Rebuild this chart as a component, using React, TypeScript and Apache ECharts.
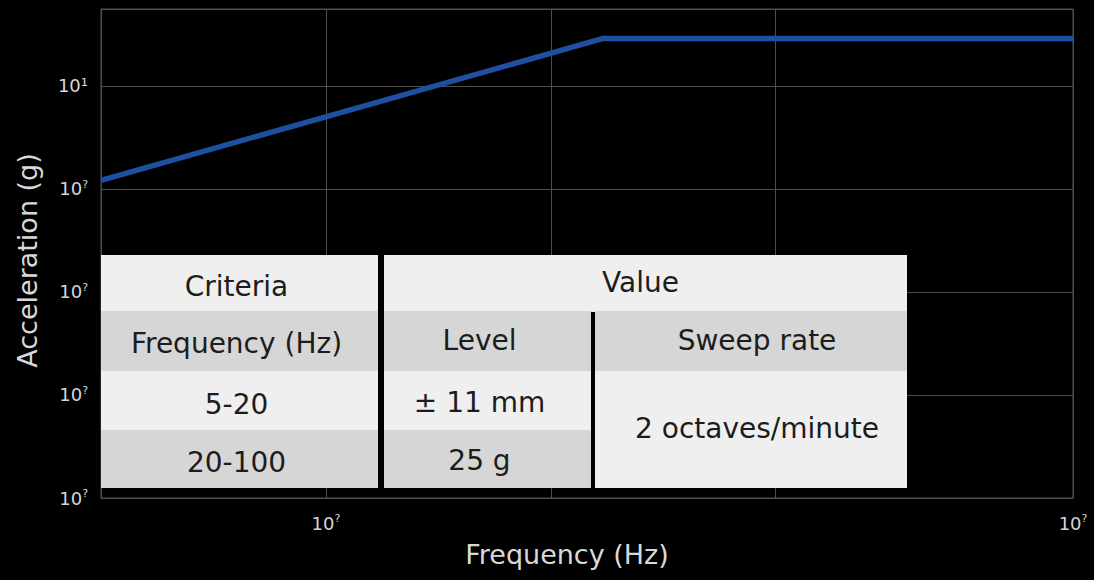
import React, { useEffect, useRef } from "react";
import * as echarts from "echarts";

// ---- data ----
const frequencyHz = [5, 23.5, 100];
const accelerationG = [1.21, 28.8, 28.8];
const octaveGridHz = [20, 40];

const xTickValues = [10, 100];
const xTickTexts = ["10?", "10?"];
const yTickValues = [10, 1, 0.1, 0.01, 0.001];
const yTickTexts = ["10¹", "10?", "10?", "10?", "10?"];

const tableHeaders = ["Criteria", "Value"];
const subHeaders = ["Frequency (Hz)", "Level", "Sweep rate"];
const frequencyRanges = ["5-20", "20-100"];
const levels = ["± 11 mm", "25 g"];
const sweepRate = "2 octaves/minute";

const FONT = "'DejaVu Sans', 'Noto Sans', sans-serif";

function matchTick(values: number[], texts: string[], v: number): string {
  const i = values.findIndex((t) => Math.abs(Math.log10(t) - Math.log10(v)) < 1e-6);
  if (i < 0) return "";
  const s = texts[i];
  if (s.endsWith("?")) return `{b|${s.slice(0, -1)}}{s|?}`;
  return `{b|${s}}`;
}

const tickRich = {
  b: { fontSize: 18, fontFamily: FONT, color: "#d6d6d6", lineHeight: 20 },
  s: { fontSize: 11, fontFamily: FONT, color: "#d6d6d6", lineHeight: 20, verticalAlign: "top", padding: [0, 0, 7, 0] },
};

function buildTable() {
  const L = 101, R = 907, C1 = 378, C2 = 384, S1 = 591, S2 = 595;
  const rows = [255, 311, 371, 430, 488];
  const light = "#efefef";
  const gray = "#d6d6d6";
  const txt = "#1c1c1c";
  const els: any[] = [];
  const rect = (x: number, y: number, w: number, h: number, fill: string) =>
    els.push({ type: "rect", z: 100, shape: { x, y, width: w, height: h }, style: { fill }, silent: true });
  const text = (cx: number, cy: number, s: string) =>
    els.push({
      type: "text",
      z: 101,
      x: cx,
      y: cy,
      style: { text: s, fill: txt, font: `400 28px ${FONT}`, align: "center", verticalAlign: "middle" },
      silent: true,
    });
  rect(L, rows[0], R - L, rows[4] - rows[0], "#000");
  rect(L, rows[0], C1 - L, rows[1] - rows[0], light);
  rect(L, rows[1], C1 - L, rows[2] - rows[1], gray);
  rect(L, rows[2], C1 - L, rows[3] - rows[2], light);
  rect(L, rows[3], C1 - L, rows[4] - rows[3], gray);
  rect(C2, rows[0], R - C2, rows[1] - rows[0] + 1, light);
  rect(C2, rows[1], S1 - C2, rows[2] - rows[1], gray);
  rect(C2, rows[2], S1 - C2, rows[3] - rows[2], light);
  rect(C2, rows[3], S1 - C2, rows[4] - rows[3], gray);
  rect(S2, rows[1], R - S2, rows[2] - rows[1], gray);
  rect(S2, rows[2], R - S2, rows[4] - rows[2], light);

  const cx1 = (L + C1) / 2 - 3;
  const cxV = (C2 + R) / 2 - 5;
  const cxL = (C2 + S1) / 2 - 8;
  const cxS = (S2 + R) / 2 + 6;
  text(cx1, 286, tableHeaders[0]);
  text(cxV, 282, tableHeaders[1]);
  text(cx1, 343, subHeaders[0]);
  text(cxL, 340, subHeaders[1]);
  text(cxS, 340, subHeaders[2]);
  text(cx1, 404, frequencyRanges[0]);
  text(cx1, 462, frequencyRanges[1]);
  text(cxL, 402, levels[0]);
  text(cxL, 460, levels[1]);
  text(cxS, 428, sweepRate);
  return els;
}

export default function App() {
  const ref = useRef<HTMLDivElement>(null);
  useEffect(() => {
    if (!ref.current) return;
    const chart = echarts.init(ref.current, undefined, { renderer: "svg" });
    const gridColor = "#4e4e4e";
    chart.setOption({
      animation: false,
      backgroundColor: "#000",
      textStyle: { fontFamily: FONT },
      grid: {
        left: 101,
        top: 9,
        right: 21,
        bottom: 82,
        show: true,
        borderColor: gridColor,
        borderWidth: 1,
      },
      xAxis: {
        type: "log",
        logBase: 10,
        min: 5,
        max: 100,
        name: "Frequency (Hz)",
        nameLocation: "middle",
        nameGap: 43,
        nameTextStyle: { color: "#d8d8d8", fontSize: 27, fontFamily: FONT, padding: [0, 40, 0, 0] },
        axisLine: { show: true, lineStyle: { color: gridColor, width: 1 } },
        axisTick: { show: false },
        axisLabel: {
          margin: 15,
          showMinLabel: false,
          formatter: (v: number) => matchTick(xTickValues, xTickTexts, v),
          rich: tickRich,
        },
        splitLine: { show: true, lineStyle: { color: gridColor, width: 1 } },
      },
      yAxis: {
        type: "log",
        logBase: 10,
        min: 0.001,
        max: 55.6,
        name: "Acceleration (g)",
        nameLocation: "middle",
        nameGap: 60,
        nameTextStyle: { color: "#d8d8d8", fontSize: 27, fontFamily: FONT, padding: [0, 14, 0, 0] },
        axisLine: { show: true, lineStyle: { color: gridColor, width: 1 } },
        axisTick: { show: false },
        axisLabel: {
          margin: 13,
          showMaxLabel: false,
          formatter: (v: number) => matchTick(yTickValues, yTickTexts, v),
          rich: tickRich,
        },
        splitLine: { show: true, lineStyle: { color: gridColor, width: 1 } },
      },
      series: [
        {
          type: "line",
          data: [],
          z: 1,
          markLine: {
            z: 1,
            silent: true,
            symbol: "none",
            label: { show: false },
            lineStyle: { color: gridColor, width: 1, type: "solid" },
            data: octaveGridHz.map((f) => ({ xAxis: f })),
          },
        },
        {
          type: "line",
          z: 3,
          data: frequencyHz.map((f, i) => [f, accelerationG[i]]),
          showSymbol: false,
          symbol: "none",
          lineStyle: { color: "#1f4fa0", width: 5.5 },
        },
      ],
      graphic: buildTable(),
    });
    return () => chart.dispose();
  }, []);
  return (
    <div
      ref={ref}
      style={{ position: "fixed", left: 0, top: 0, width: 1094, height: 580, background: "#000" }}
    />
  );
}
